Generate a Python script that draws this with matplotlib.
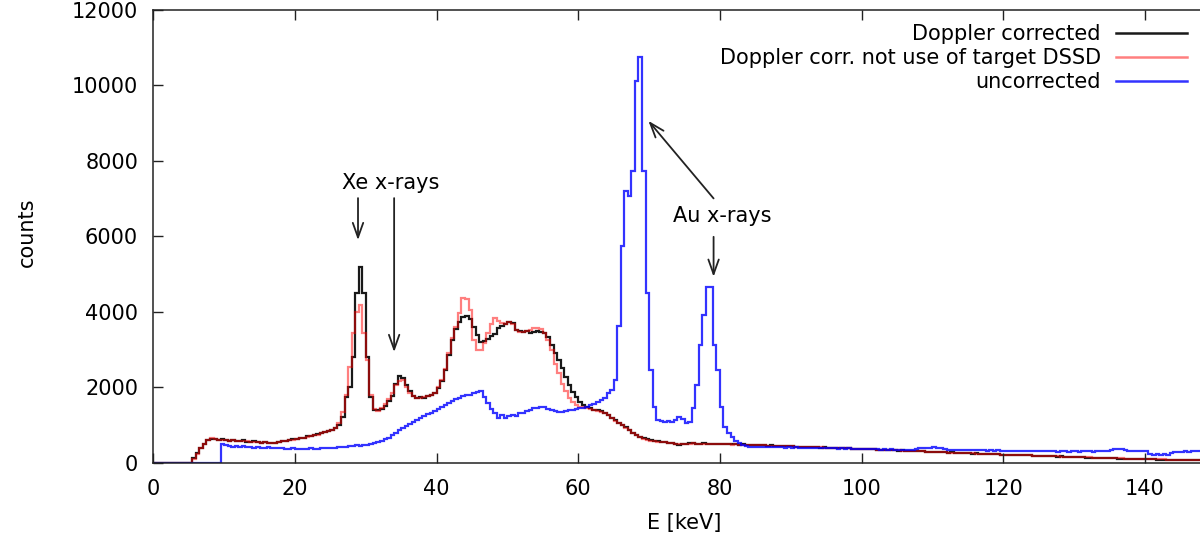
import numpy as np
import matplotlib
matplotlib.use("Agg")
import matplotlib.pyplot as plt
from matplotlib.lines import Line2D

# Histogram binning: 0.5 keV bins from 0 to 150 keV
bin_width = 0.5
energy_edges = np.arange(0, 150 + bin_width / 2, bin_width)

# Doppler corrected spectrum (counts per bin), 5 keV per row
doppler_corrected = [
    0, 0, 0, 0, 0, 0, 0, 0, 0, 0,
    0, 120, 250, 380, 500, 600, 640, 630, 610, 620,
    600, 590, 615, 580, 570, 595, 560, 545, 565, 540,
    530, 545, 520, 515, 530, 560, 585, 570, 600, 625,
    640, 650, 670, 700, 720, 735, 760, 790, 810, 830,
    860, 920, 1000, 1220, 1750, 2020, 2800, 4490, 5200, 4490,
    2800, 1750, 1400, 1390, 1430, 1500, 1640, 1780, 2100, 2290,
    2250, 2060, 1900, 1780, 1710, 1740, 1730, 1760, 1790, 1850,
    1980, 2180, 2450, 2850, 3250, 3550, 3720, 3870, 3880, 3810,
    3600, 3380, 3210, 3240, 3270, 3350, 3420, 3560, 3630, 3690,
    3740, 3700, 3520, 3480, 3460, 3490, 3450, 3470, 3500, 3460,
    3430, 3340, 3120, 2900, 2720, 2500, 2280, 2060, 1880, 1750,
    1620, 1530, 1470, 1440, 1410, 1390, 1360, 1330, 1270, 1200,
    1130, 1060, 1000, 940, 870, 800, 740, 690, 650, 620,
    595, 575, 565, 555, 545, 535, 520, 500, 475, 490,
    510, 520, 530, 510, 500, 520, 505, 495, 510, 500,
    505, 495, 510, 490, 500, 485, 495, 480, 475, 485,
    470, 465, 475, 455, 460, 450, 445, 455, 440, 435,
    440, 430, 425, 430, 420, 415, 420, 410, 405, 410,
    400, 395, 400, 390, 385, 380, 385, 375, 370, 375,
    365, 360, 355, 360, 350, 345, 340, 345, 335, 330,
    325, 330, 320, 310, 315, 305, 300, 305, 295, 290,
    285, 290, 280, 275, 270, 275, 265, 260, 262, 255,
    250, 245, 250, 240, 235, 238, 230, 225, 228, 220,
    215, 218, 210, 205, 208, 200, 195, 198, 190, 185,
    188, 180, 175, 178, 170, 165, 168, 160, 155, 158,
    150, 145, 148, 140, 135, 138, 130, 125, 128, 120,
    118, 115, 112, 110, 108, 105, 102, 100, 98, 95,
    92, 90, 88, 85, 84, 82, 80, 78, 76, 75,
    73, 72, 70, 68, 66, 65, 63, 62, 60, 58,
]

# Doppler corrected without the target DSSD
doppler_no_dssd = [
    0, 0, 0, 0, 0, 0, 0, 0, 0, 0,
    0, 110, 240, 390, 510, 610, 650, 625, 615, 610,
    605, 580, 600, 585, 565, 580, 570, 550, 555, 545,
    535, 540, 525, 520, 535, 555, 575, 580, 595, 615,
    635, 655, 665, 695, 715, 730, 750, 785, 805, 840,
    880, 930, 1050, 1350, 1810, 2550, 3430, 4000, 4180, 3430,
    2720, 1800, 1420, 1380, 1450, 1560, 1700, 1850, 2050, 2180,
    2200, 2000, 1860, 1760, 1720, 1730, 1740, 1770, 1800, 1860,
    2000, 2200, 2480, 2900, 3300, 3600, 3960, 4360, 4350, 4050,
    3250, 2990, 3000, 3170, 3430, 3690, 3830, 3750, 3700, 3690,
    3730, 3690, 3510, 3470, 3470, 3500, 3520, 3560, 3560, 3540,
    3440, 3250, 2990, 2630, 2370, 2100, 1890, 1710, 1620, 1530,
    1490, 1470, 1450, 1430, 1400, 1380, 1350, 1320, 1260, 1190,
    1120, 1050, 990, 930, 860, 790, 730, 680, 640, 610,
    590, 570, 560, 550, 540, 530, 520, 510, 500, 505,
    505, 510, 515, 505, 500, 510, 500, 495, 500, 495,
    495, 490, 495, 485, 490, 480, 485, 475, 470, 475,
    465, 462, 468, 455, 458, 450, 448, 450, 440, 438,
    436, 430, 428, 425, 420, 418, 415, 412, 408, 405,
    400, 398, 395, 390, 388, 382, 380, 376, 372, 370,
    366, 362, 358, 355, 352, 348, 344, 340, 336, 332,
    328, 325, 320, 316, 312, 308, 304, 300, 296, 292,
    288, 285, 280, 276, 272, 268, 265, 262, 258, 254,
    250, 247, 244, 240, 237, 234, 230, 227, 224, 220,
    217, 214, 211, 208, 204, 201, 198, 195, 192, 188,
    185, 182, 179, 176, 172, 169, 166, 162, 159, 156,
    153, 150, 147, 144, 141, 138, 135, 132, 129, 126,
    123, 120, 118, 115, 112, 110, 108, 105, 103, 100,
    98, 96, 94, 92, 90, 88, 86, 84, 82, 80,
    79, 77, 76, 74, 73, 71, 70, 68, 67, 65,
]

# Uncorrected spectrum
uncorrected = [
    0, 0, 0, 0, 0, 0, 0, 0, 0, 0,
    0, 0, 0, 0, 0, 0, 0, 0, 0, 490,
    470, 445, 430, 455, 425, 435, 415, 425, 405, 415,
    400, 395, 410, 390, 385, 380, 392, 375, 370, 382,
    370, 376, 365, 372, 380, 370, 375, 380, 386, 392,
    395, 402, 410, 420, 432, 440, 452, 462, 456, 470,
    480, 500, 520, 545, 575, 620, 670, 730, 790, 860,
    930, 985, 1040, 1090, 1140, 1200, 1250, 1290, 1330, 1370,
    1420, 1470, 1520, 1580, 1640, 1690, 1730, 1760, 1790, 1810,
    1860, 1880, 1890, 1750, 1580, 1420, 1330, 1180, 1270, 1190,
    1230, 1270, 1250, 1310, 1330, 1360, 1400, 1440, 1460, 1490,
    1480, 1430, 1400, 1360, 1350, 1340, 1370, 1390, 1400, 1420,
    1440, 1460, 1490, 1520, 1560, 1600, 1660, 1720, 1840, 1940,
    2200, 3620, 5750, 7200, 7080, 7740, 10130, 10750, 7740, 4500,
    2470, 1490, 1140, 1110, 1090, 1100, 1080, 1130, 1220, 1150,
    1050, 1090, 1440, 2060, 3120, 3920, 4660, 4660, 3120, 2460,
    1480, 950, 800, 680, 580, 520, 480, 450, 430, 420,
    425, 420, 430, 415, 420, 410, 425, 415, 405, 410,
    400, 410, 395, 405, 390, 400, 395, 385, 395, 390,
    385, 390, 380, 375, 385, 370, 380, 375, 365, 370,
    365, 370, 360, 355, 365, 350, 360, 345, 355, 350,
    345, 350, 340, 345, 350, 360, 380, 400, 395, 380,
    410, 400, 380, 360, 350, 345, 350, 340, 345, 335,
    340, 330, 335, 340, 330, 325, 335, 320, 330, 325,
    320, 325, 315, 320, 310, 318, 312, 305, 315, 310,
    305, 310, 300, 308, 302, 298, 305, 300, 295, 300,
    302, 298, 305, 310, 300, 295, 305, 300, 310, 320,
    340, 360, 370, 355, 340, 320, 310, 305, 300, 310,
    300, 240, 220, 225, 215, 230, 220, 260, 280, 290,
    295, 300, 290, 305, 300, 310, 300, 305, 310, 300,
]

series_labels = ["Doppler corrected",
                 "Doppler corr. not use of target DSSD",
                 "uncorrected"]
x_ticks = [0, 20, 40, 60, 80, 100, 120, 140]
y_ticks = [0, 2000, 4000, 6000, 8000, 10000, 12000]

for s in (doppler_corrected, doppler_no_dssd, uncorrected):
    assert len(s) == len(energy_edges) - 1, len(s)

plt.rcParams["font.family"] = ["DejaVu Sans"]
plt.rcParams["font.size"] = 15

fig = plt.figure(figsize=(12, 5.4), dpi=100)
ax = fig.add_axes([0.12775, 0.14296, 0.8854, 0.8385])

styles = [
    dict(color="#000000", alpha=0.9),
    dict(color="#ff0000", alpha=0.5),
    dict(color="#0000ff", alpha=0.8),
]
for vals, st in zip((doppler_corrected, doppler_no_dssd, uncorrected), styles):
    ax.stairs(vals, energy_edges, baseline=0, fill=False, linewidth=1.6, **st)

ax.set_xlim(0, 150)
ax.set_ylim(0, 12000)
ax.set_xticks(x_ticks)
ax.set_yticks(y_ticks)
ax.tick_params(direction="in", length=7.5, width=1.0, top=True, right=True,
               labelsize=15, color="#222222")
ax.tick_params(axis="x", pad=12)
ax.tick_params(axis="y", pad=11)
for sp in ax.spines.values():
    sp.set_linewidth(1.1)
    sp.set_color("#222222")

ax.set_xlabel("E [keV]", fontsize=15, labelpad=10)
ax.set_ylabel("counts", fontsize=15)
ax.yaxis.set_label_coords(-0.11, 0.51)

# Legend: labels right-aligned, line samples to the right
handles = [Line2D([], [], linewidth=1.8, **st) for st in styles]
ax.legend(handles, series_labels, loc="upper right",
          bbox_to_anchor=(0.973, 0.969), frameon=False, markerfirst=False,
          handlelength=3.4, handletextpad=0.75, labelspacing=0.2,
          borderpad=0, borderaxespad=0, fontsize=15)

# Peak annotations
arrow_kw = dict(arrowstyle="->,head_length=0.7,head_width=0.25", lw=1.3,
                color="#222222", shrinkA=0, shrinkB=0, mutation_scale=15)
ax.text(33.5, 7412, "Xe x-rays", ha="center", va="center", fontsize=15)
ax.annotate("", xy=(28.9, 5902), xytext=(28.9, 7015), arrowprops=arrow_kw)
ax.annotate("", xy=(34.0, 2935), xytext=(34.0, 7015), arrowprops=arrow_kw)
ax.text(80.3, 6538, "Au x-rays", ha="center", va="center", fontsize=15)
ax.annotate("", xy=(69.9, 9062), xytext=(79.1, 7007), arrowprops=arrow_kw)
ax.annotate("", xy=(79.1, 4930), xytext=(79.1, 5989), arrowprops=arrow_kw)

fig.savefig("out.png", dpi=100)
